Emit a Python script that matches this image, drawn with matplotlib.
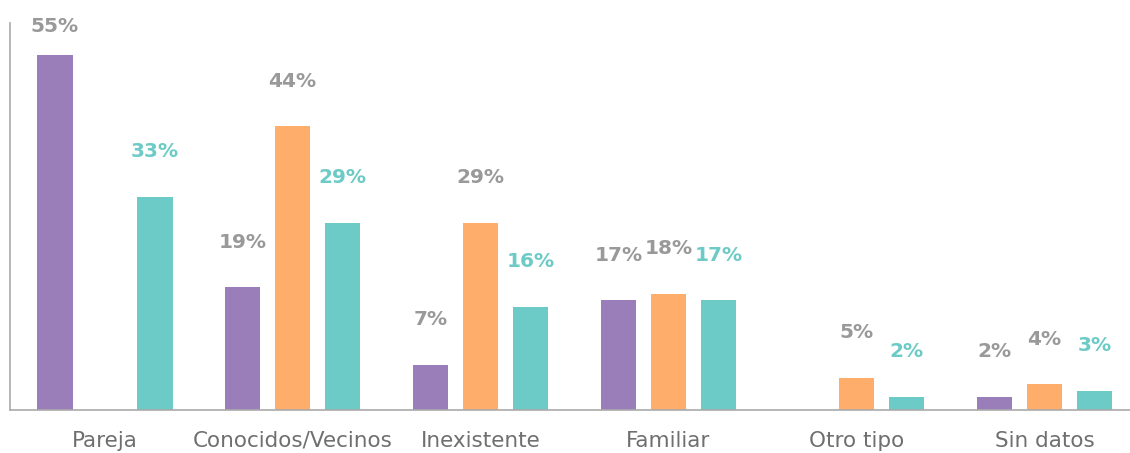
import matplotlib.pyplot as plt
import numpy as np

categories = ["Pareja", "Conocidos/Vecinos", "Inexistente", "Familiar", "Otro tipo", "Sin datos"]
serie_a = [55, 19, 7, 17, 0, 2]
serie_b = [0, 44, 29, 18, 5, 4]
serie_c = [33, 29, 16, 17, 2, 3]

colors = ["#9a7eba", "#ffad6b", "#6ccbc6"]
label_colors = ["#999999", "#999999", "#6ccbc6"]

plt.rcParams['font.family'] = ['DejaVu Sans']

fig = plt.figure(figsize=(11.3, 4.53), dpi=100)
ax = fig.add_axes([10 / 1130, 43 / 453, 1120 / 1130, 387 / 453])

x = np.arange(len(categories))
width = 0.191
step = 0.266

for i, (vals, c, lc) in enumerate(zip([serie_a, serie_b, serie_c], colors, label_colors)):
	pos = x + (i - 1) * step
	ax.bar(pos, vals, width=width, color=c)
	for p, v in zip(pos, vals):
		if v == 0:
			continue
		ly = min(v + 7, 59.5)
		ax.text(p, ly, "%d%%" % v, ha='center', va='center', color=lc,
			fontsize=14.5, fontweight='bold', clip_on=False)

ax.set_xlim(-0.503, 5.455)
ax.set_ylim(0, 60)
ax.set_yticks([])
ax.set_xticks(x)
ax.set_xticklabels(categories, fontsize=15.5, color="#6f6f6f")
ax.tick_params(axis='x', length=0, pad=15)

for s in ['top', 'right']:
	ax.spines[s].set_visible(False)
for s in ['left', 'bottom']:
	ax.spines[s].set_color("#aaaaaa")
	ax.spines[s].set_linewidth(1.2)

fig.savefig("out.png", dpi=100)
